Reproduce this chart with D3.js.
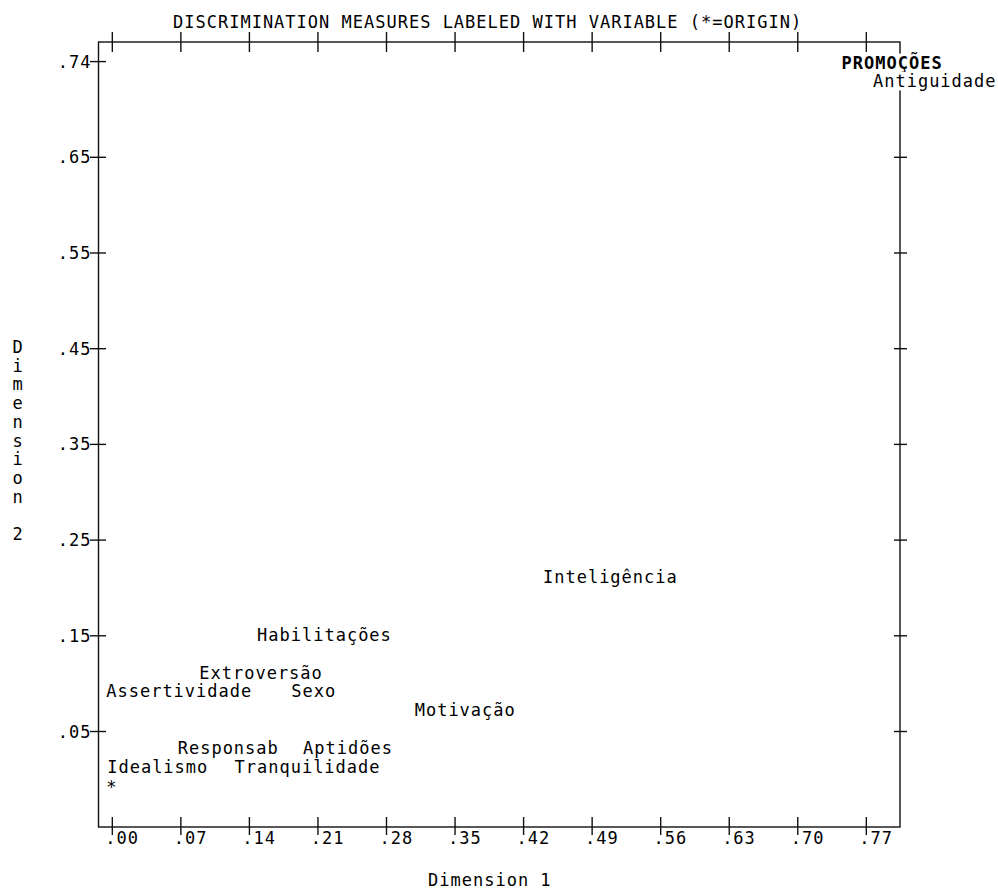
<!DOCTYPE html>
<html>
<head>
<meta charset="utf-8">
<script src="https://cdn.jsdelivr.net/npm/d3@7/dist/d3.min.js"></script>
<style>
  html, body { margin: 0; padding: 0; background: #fff; }
  svg text { font-family: "DejaVu Sans Mono", monospace; font-size: 17px; letter-spacing: 1.0px; fill: #000; }
</style>
</head>
<body>
<svg id="chart" width="998" height="891"></svg>
<script>
// ---- data ----
const title = "DISCRIMINATION MEASURES LABELED WITH VARIABLE (*=ORIGIN)";
const xTitle = "Dimension 1";
const yTitle = "Dimension 2";
const variables = ["PROMOÇÕES", "Antiguidade", "Inteligência", "Habilitações", "Extroversão",
                   "Assertividade", "Sexo", "Motivação", "Responsab", "Aptidões", "Idealismo", "Tranquilidade"];
const dim1 = [0.751, 0.783, 0.446, 0.154, 0.095, 0.000, 0.189, 0.315, 0.073, 0.201, 0.001, 0.131];
const dim2 = [0.743, 0.724, 0.210, 0.149, 0.110, 0.091, 0.091, 0.071, 0.032, 0.032, 0.012, 0.012];
const boldVars = ["PROMOÇÕES"];
const xTickValues = [0.00, 0.07, 0.14, 0.21, 0.28, 0.35, 0.42, 0.49, 0.56, 0.63, 0.70, 0.77];
const xTickLabels = [".00", ".07", ".14", ".21", ".28", ".35", ".42", ".49", ".56", ".63", ".70", ".77"];
const yTickValues = [0.0495, 0.1488, 0.2481, 0.3474, 0.4467, 0.5460, 0.6453, 0.7446];
const yTickLabels = [".05", ".15", ".25", ".35", ".45", ".55", ".65", ".74"];
const xDomain = [-0.0136, 0.8049];
const yDomain = [-0.0501, 0.7644];

// ---- layout ----
const svg = d3.select("#chart");
const L = 98.5, R = 900, T = 42, B = 827;
const cell = 11.2;   // character cell width
const x = d3.scaleLinear().domain(xDomain).range([L, R]);
const y = d3.scaleLinear().domain(yDomain).range([B, T]);

// frame
svg.append("rect").attr("x", L).attr("y", T).attr("width", R - L).attr("height", B - T)
  .attr("fill", "none").attr("stroke", "#111").attr("stroke-width", 1.4);

function styleAxis(g) {
  g.select(".domain").remove();
  g.selectAll(".tick line").attr("stroke", "#111").attr("stroke-width", 1.4);
}

// bottom axis
const gB = svg.append("g").attr("transform", `translate(0,${B})`)
  .call(d3.axisBottom(x).tickValues(xTickValues).tickFormat((d, i) => xTickLabels[i]));
styleAxis(gB);
gB.selectAll(".tick line").attr("y1", -10).attr("y2", 8);
gB.selectAll(".tick text").attr("text-anchor", "start").attr("x", -7.1).attr("y", 17).attr("dy", 0)
  .attr("font-family", null).attr("font-size", null).attr("fill", "#000");

// top axis
const gT = svg.append("g").attr("transform", `translate(0,${T})`)
  .call(d3.axisTop(x).tickValues(xTickValues).tickFormat(""));
styleAxis(gT);
gT.selectAll(".tick line").attr("y1", -10).attr("y2", 10);

// left axis
const gL = svg.append("g").attr("transform", `translate(${L},0)`)
  .call(d3.axisLeft(y).tickValues(yTickValues).tickFormat((d, i) => yTickLabels[i]));
styleAxis(gL);
gL.selectAll(".tick line").attr("x1", -8.5).attr("x2", 7.5);
gL.selectAll(".tick text").attr("text-anchor", "end").attr("x", -7).attr("dy", 6)
  .attr("font-family", null).attr("font-size", null).attr("fill", "#000");

// right axis
const gR = svg.append("g").attr("transform", `translate(${R},0)`)
  .call(d3.axisRight(y).tickValues(yTickValues).tickFormat(""));
styleAxis(gR);
gR.selectAll(".tick line").attr("x1", -6).attr("x2", 7);

// title
svg.append("text").attr("x", 173).attr("y", 28).text(title);
// x title
svg.append("text").attr("x", 428).attr("y", 886).text(xTitle);
// y title stacked vertically
svg.append("g").selectAll("text").data(yTitle.split(""))
  .join("text").attr("text-anchor", "middle").attr("letter-spacing", 0)
  .attr("x", 18).attr("y", (d, i) => 353 + i * 18.7).text(d => d);

// labels (text-plot: each label starts in the point's character cell)
const pts = variables.map((v, i) => ({ name: v, d1: dim1[i], d2: dim2[i] }));
const lab = svg.append("g");
pts.forEach(p => {
  const lx = x(p.d1) - cell / 2, ly = y(p.d2);
  lab.append("rect").attr("x", lx).attr("y", ly - 9).attr("width", p.name.length * cell).attr("height", 18.5)
    .attr("fill", "#fff");
  lab.append("text").attr("x", lx).attr("y", ly + 6.2)
    .attr("font-weight", boldVars.includes(p.name) ? "bold" : null)
    .text(p.name);
});
// origin marker
lab.append("text").attr("x", x(0) - cell / 2).attr("y", y(0) + 14).text("*");
</script>
</body>
</html>
